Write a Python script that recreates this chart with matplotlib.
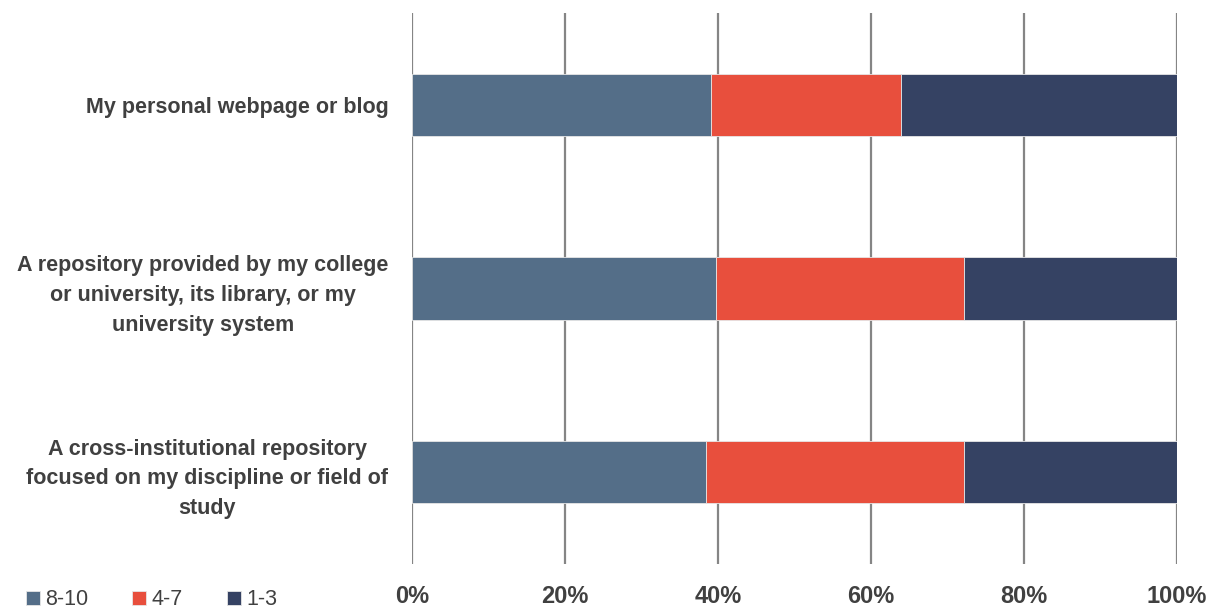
import matplotlib
matplotlib.use("Agg")
import matplotlib.pyplot as plt
from matplotlib.ticker import FuncFormatter
import numpy as np

categories = [
    "My personal webpage or blog",
    "A repository provided by my college\nor university, its library, or my\nuniversity system",
    "A cross-institutional repository\nfocused on my discipline or field of\nstudy",
]
series_names = ["8-10", "4-7", "1-3"]
v_8_10 = [39.1, 39.7, 38.4]
v_4_7 = [24.8, 32.5, 33.8]
v_1_3 = [36.1, 27.8, 27.8]
colors = ["#546E88", "#E84F3D", "#354263"]
xticks = [0, 20, 40, 60, 80, 100]

W, H = 1217, 609
fig = plt.figure(figsize=(W / 100, H / 100), dpi=100)
ax = fig.add_axes([412 / W, (H - 563.75) / H, (1177 - 412) / W, (563.75 - 13.25) / H])

y = np.arange(len(categories))
left = np.zeros(len(categories))
for name, vals, c in zip(series_names, [v_8_10, v_4_7, v_1_3], colors):
    ax.barh(y, vals, left=left, height=0.34, color=c, label=name,
            edgecolor="#e6e6e6", linewidth=0.6, zorder=3)
    left = left + np.array(vals)

ax.set_ylim(len(categories) - 0.5, -0.5)
ax.set_xlim(0, 100)
ax.set_xticks(xticks)
ax.xaxis.set_major_formatter(FuncFormatter(lambda v, p: f"{int(v)}%"))
ax.grid(axis="x", color="#858585", linewidth=1.6, zorder=0)
for s in ax.spines.values():
    s.set_visible(False)

ax.set_yticks(y)
ax.set_yticklabels(categories, fontsize=15.5, fontweight="bold", color="#404040",
                   family=["Liberation Sans"], linespacing=1.55)
for t in ax.get_yticklabels():
    t.set_multialignment("center")
ax.tick_params(axis="y", length=0, pad=17)
ax.tick_params(axis="x", length=0, pad=15, labelsize=17, labelcolor="#404040")
for t in ax.get_xticklabels():
    t.set_fontweight("bold")
    t.set_family(["Liberation Sans Narrow", "Liberation Sans"])
    t.set_verticalalignment("top")

leg = fig.legend(loc="lower left", bbox_to_anchor=(17 / W, -10 / H), ncol=3,
                 frameon=False, prop={"family": "Liberation Sans", "size": 15.5},
                 handlelength=0.65, handleheight=0.65, handletextpad=0.25,
                 columnspacing=2.05, borderaxespad=0)
for t in leg.get_texts():
    t.set_color("#404040")

fig.savefig("out.png", dpi=100)
